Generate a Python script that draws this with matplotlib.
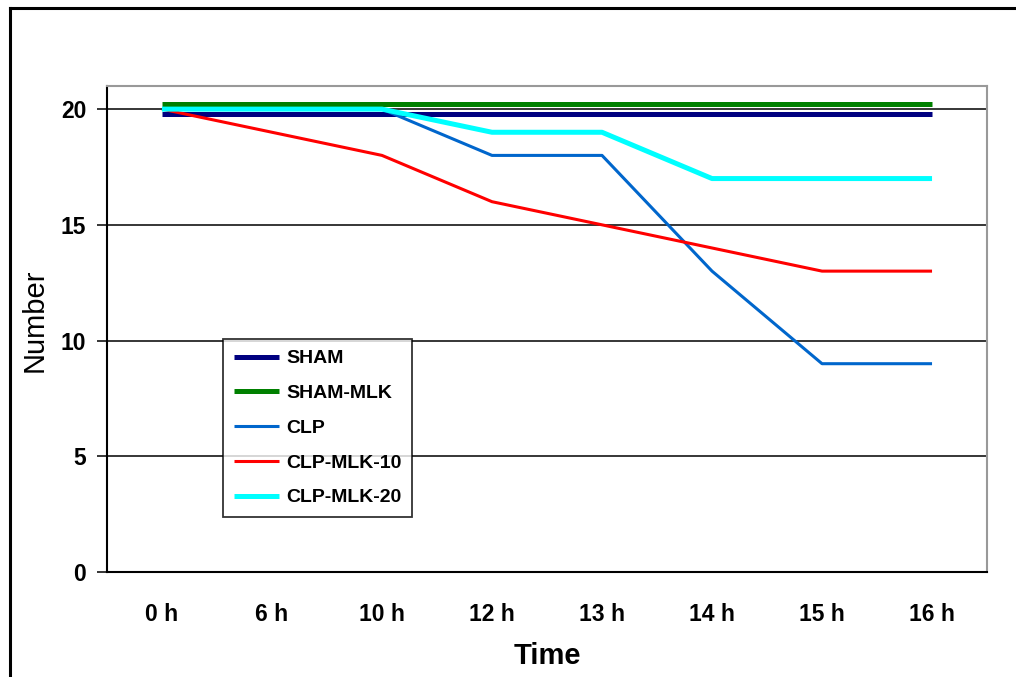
import matplotlib.pyplot as plt
from matplotlib.lines import Line2D

plt.rcParams["font.family"] = ["Liberation Sans", "DejaVu Sans"]

tempos = ["0 h", "6 h", "10 h", "12 h", "13 h", "14 h", "15 h", "16 h"]
sham = [19.8, 19.8, 19.8, 19.8, 19.8, 19.8, 19.8, 19.8]
sham_mlk = [20.2, 20.2, 20.2, 20.2, 20.2, 20.2, 20.2, 20.2]
clp = [20, 20, 20, 18, 18, 13, 9, 9]
clp_mlk_10 = [20, 19, 18, 16, 15, 14, 13, 13]
clp_mlk_20 = [20, 20, 20, 19, 19, 17, 17, 17]

series = [
    ("SHAM", sham, "#000080", 3.6),
    ("SHAM-MLK", sham_mlk, "#008000", 3.6),
    ("CLP", clp, "#0066CC", 2.2),
    ("CLP-MLK-10", clp_mlk_10, "#FF0000", 2.2),
    ("CLP-MLK-20", clp_mlk_20, "#00FFFF", 3.6),
]

fig = plt.figure(figsize=(10.16, 6.77), dpi=100)
ax = fig.add_axes([0.1053, 0.1551, 0.8662, 0.7179])

x = list(range(len(tempos)))
for nome, valores, cor, lw in series:
    ax.plot(x, valores, color=cor, lw=lw, label=nome, solid_capstyle="butt", zorder=3)

ax.set_xlim(-0.5, len(tempos) - 0.5)
ax.set_ylim(0, 21)
ax.set_yticks([0, 5, 10, 15, 20])
ax.set_xticks(x)
ax.set_xticklabels(tempos)
ax.grid(axis="y", color="black", lw=1.1, zorder=1)

for lbl in ax.get_xticklabels() + ax.get_yticklabels():
    lbl.set_fontweight("bold")
    lbl.set_fontsize(16.5)
ax.tick_params(axis="x", length=0, pad=22)
ax.tick_params(axis="y", length=7, width=1.1, pad=8, direction="out")

ax.spines["left"].set_linewidth(1.5)
ax.spines["bottom"].set_linewidth(1.5)
ax.spines["top"].set_color("#999999")
ax.spines["right"].set_color("#999999")
ax.spines["top"].set_linewidth(1.5)
ax.spines["right"].set_linewidth(1.5)

ax.set_xlabel("Time", fontsize=21, fontweight="bold")
ax.set_ylabel("Number", fontsize=21)
ax.xaxis.set_label_coords(0.5, -0.173)
ax.yaxis.set_label_coords(-0.082, 0.519)
ax.xaxis.label.set_va("center")
ax.yaxis.label.set_va("center")

leg = ax.legend(loc="lower left", bbox_to_anchor=(0.132, 0.113), borderaxespad=0,
                prop={"weight": "bold", "size": 14},
                handlelength=2.3, handletextpad=0.4, labelspacing=0.88,
                frameon=True, fancybox=False, borderpad=0.55)
leg.get_frame().set_edgecolor("black")
leg.get_frame().set_linewidth(1.3)

# borda externa do gráfico (cortada à direita e embaixo)
fig.add_artist(Line2D([10 / 1016, 1.0], [1 - 8 / 677, 1 - 8 / 677], color="black", lw=2.2))
fig.add_artist(Line2D([10 / 1016, 10 / 1016], [0, 1 - 8 / 677], color="black", lw=2.2))

fig.savefig("out.png", dpi=100)
